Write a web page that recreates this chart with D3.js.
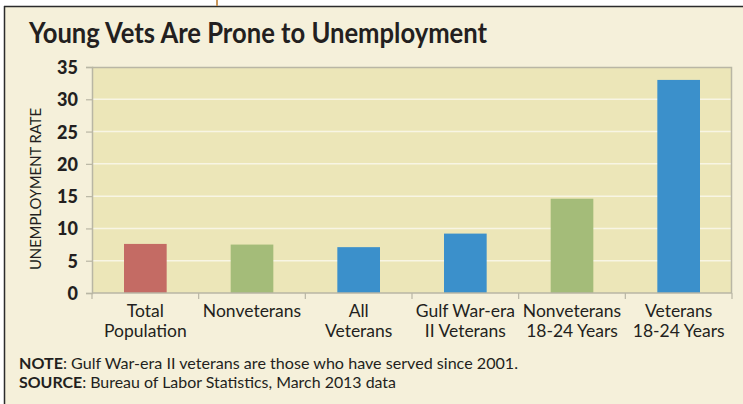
<!DOCTYPE html>
<html>
<head>
<meta charset="utf-8">
<script src="https://cdn.jsdelivr.net/npm/d3@7"></script>
<style>
  html, body { margin: 0; padding: 0; background: #ffffff; }
  svg { display: block; }
  text { font-family: Lato, "Open Sans", sans-serif; fill: #231f20; }
</style>
</head>
<body>
<svg id="chart" width="743" height="404"></svg>
<script>
// ----------------------------
// Data
// ----------------------------
const categories = ["Total Population", "Nonveterans", "All Veterans",
  "Gulf War-era II Veterans", "Nonveterans 18-24 Years", "Veterans 18-24 Years"];
const labelLines = [
  ["Total", "Population"],
  ["Nonveterans"],
  ["All", "Veterans"],
  ["Gulf War-era", "II Veterans"],
  ["Nonveterans", "18-24 Years"],
  ["Veterans", "18-24 Years"]
];
const rates = [7.6, 7.5, 7.1, 9.2, 14.6, 33.0];
const groups = ["total", "nonvet", "vet", "vet", "nonvet", "vet"];
const yTicks = [0, 5, 10, 15, 20, 25, 30, 35];

const title = "Young Vets Are Prone to Unemployment";
const yLabel = "UNEMPLOYMENT RATE";
const notes = [
  ["NOTE", ": Gulf War-era II veterans are those who have served since 2001."],
  ["SOURCE", ": Bureau of Labor Statistics, March 2013 data"]
];

const colors = { total: "#c46b64", nonvet: "#a4bc79", vet: "#3b90cb" };

// ----------------------------
// Plotting
// ----------------------------
const svg = d3.select("#chart");

// card
svg.append("rect")
    .attr("x", 4).attr("y", 6)
    .attr("width", 760).attr("height", 420)
    .attr("fill", "#f5f0da");
svg.append("line") // top frame
    .attr("x1", 4).attr("x2", 743)
    .attr("y1", 6.5).attr("y2", 6.5)
    .attr("stroke", "#2b2b2b").attr("stroke-width", 1.5);
svg.append("line") // left frame
    .attr("x1", 4.5).attr("x2", 4.5)
    .attr("y1", 6).attr("y2", 404)
    .attr("stroke", "#2b2b2b").attr("stroke-width", 1.5);
svg.append("line") // little tan rule above the card
    .attr("x1", 217).attr("x2", 217)
    .attr("y1", 0).attr("y2", 6)
    .attr("stroke", "#c9975a").attr("stroke-width", 2);

svg.append("text")
    .attr("x", 29).attr("y", 43)
    .attr("font-size", 29)
    .attr("font-weight", 700)
    .attr("textLength", 458)
    .attr("lengthAdjust", "spacingAndGlyphs")
    .text(title);

const margin = { top: 67, right: 11, bottom: 111, left: 92 };
const innerW = 743 - margin.left - margin.right;
const innerH = 404 - margin.top - margin.bottom;

const xScale = d3.scaleBand().domain(categories).range([0, innerW]).padding(0);
const yScale = d3.scaleLinear().domain([0, 35]).range([innerH, 0]);

const g = svg.append("g").attr("transform", `translate(${margin.left},${margin.top})`);

g.append("rect")
    .attr("width", innerW).attr("height", innerH)
    .attr("fill", "#ece6b8");

// grid
g.selectAll("line.grid")
  .data(yTicks.filter(t => t > 0 && t < 35))
  .join("line")
    .attr("class", "grid")
    .attr("x1", 0).attr("x2", innerW)
    .attr("y1", d => yScale(d)).attr("y2", d => yScale(d))
    .attr("stroke", "#f8f5e4").attr("stroke-width", 1.5);

// bars
const bw = xScale.bandwidth();
g.selectAll("rect.bar")
  .data(rates)
  .join("rect")
    .attr("class", "bar")
    .attr("x", (d, i) => xScale(categories[i]) + bw * 0.3)
    .attr("width", bw * 0.4)
    .attr("y", d => yScale(d))
    .attr("height", d => innerH - yScale(d))
    .attr("fill", (d, i) => colors[groups[i]]);

// plot frame top / right
g.append("path")
    .attr("d", `M0,0.5H${innerW - 0.5}V${innerH}`)
    .attr("fill", "none")
    .attr("stroke", "#b9b6a4").attr("stroke-width", 1.5);

// y axis
const yAxis = g.append("g")
    .call(d3.axisLeft(yScale).tickValues(yTicks).tickSize(6).tickPadding(8));
yAxis.select(".domain").attr("stroke", "#b9b6a4").attr("stroke-width", 1.5);
yAxis.selectAll(".tick line").attr("stroke", "#b9b6a4").attr("stroke-width", 1.2);
yAxis.selectAll(".tick text")
    .attr("font-family", "Lato, sans-serif")
    .attr("font-size", 18)
    .attr("font-weight", 900)
    .attr("fill", "#231f20")
    .attr("dy", "0.36em");

// x axis: ticks at band edges
const xAxis = g.append("g").attr("transform", `translate(0,${innerH})`);
xAxis.append("line")
    .attr("x1", 0).attr("x2", innerW)
    .attr("stroke", "#b9b6a4").attr("stroke-width", 1.5);
xAxis.selectAll("line.edge")
  .data(categories.concat(["end"]))
  .join("line")
    .attr("class", "edge")
    .attr("x1", (d, i) => i < categories.length ? xScale(d) : innerW)
    .attr("x2", (d, i) => i < categories.length ? xScale(d) : innerW)
    .attr("y1", 0).attr("y2", 6)
    .attr("stroke", "#b9b6a4").attr("stroke-width", 1.2);

xAxis.selectAll("text.cat")
  .data(categories)
  .join("text")
    .attr("class", "cat")
    .attr("text-anchor", "middle")
    .attr("font-size", 17.5)
    .attr("transform", d => `translate(${xScale(d) + bw / 2},24)`)
    .each(function(d, i) {
      d3.select(this).selectAll("tspan")
        .data(labelLines[i])
        .join("tspan")
          .attr("x", 0)
          .attr("y", (l, j) => j * 20)
          .text(l => l);
    });

// y label
svg.append("text")
    .attr("transform", `translate(41,${margin.top + innerH / 2 + 9}) rotate(-90)`)
    .attr("text-anchor", "middle")
    .attr("font-size", 16)
    .attr("font-weight", 400)
    .attr("textLength", 162)
    .attr("lengthAdjust", "spacingAndGlyphs")
    .text(yLabel);

// notes
const noteWidths = [499, 377];
notes.forEach((n, i) => {
  const t = svg.append("text")
      .attr("x", 19).attr("y", 369 + i * 19)
      .attr("font-size", 16)
      .attr("textLength", noteWidths[i])
      .attr("lengthAdjust", "spacingAndGlyphs");
  t.append("tspan").attr("font-weight", 700).text(n[0]);
  t.append("tspan").text(n[1]);
});
</script>
</body>
</html>
